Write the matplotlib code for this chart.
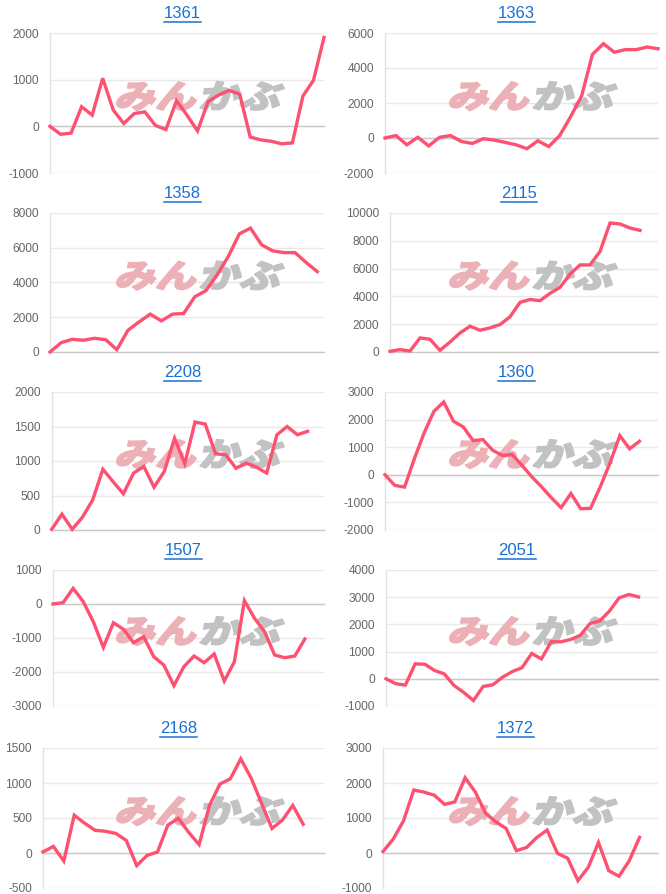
import matplotlib
matplotlib.use('Agg')
import matplotlib.pyplot as plt
from matplotlib.textpath import TextPath
from matplotlib.patches import PathPatch
from matplotlib.font_manager import FontProperties
from matplotlib.transforms import Affine2D, IdentityTransform
from matplotlib.lines import Line2D
import numpy as np

plt.rcParams['font.family'] = ['Liberation Sans', 'DejaVu Sans']

# ---------------- data ----------------
codes = ['1361', '1363', '1358', '2115', '2208', '1360', '1507', '2051', '2168', '1372']

s1361 = [0, -170, -145, 420, 240, 1030, 350, 60, 275, 310, 20, -70, 550, 240, -100,
         530, 670, 770, 690, -230, -290, -320, -375, -355, 650, 985, 1905]
s1363 = [0, 140, -390, 40, -450, 40, 140, -200, -310, -40, -120, -250, -390, -610, -160,
         -490, 140, 1220, 2390, 4780, 5390, 4900, 5050, 5050, 5200, 5100]
s1358 = [0, 540, 730, 675, 790, 710, 135, 1250, 1735, 2180, 1790, 2180, 2215, 3180, 3530,
         4430, 5490, 6800, 7130, 6170, 5820, 5720, 5720, 5150, 4625]
s2115 = [50, 170, 70, 1010, 915, 120, 720, 1370, 1855, 1565, 1735, 1975, 2530, 3570, 3780,
         3690, 4220, 4650, 5590, 6265, 6265, 7230, 9280, 9210, 8920, 8750]
s2208 = [10, 230, 10, 185, 435, 880, 700, 525, 825, 920, 620, 850, 1330, 960, 1565, 1535,
         1105, 1090, 895, 970, 910, 825, 1380, 1500, 1380, 1430]
s1360 = [0, -385, -445, 580, 1520, 2300, 2640, 1940, 1735, 1240, 1275, 890, 700, 735, 340,
         -70, -435, -830, -1190, -675, -1230, -1215, -435, 435, 1420, 940, 1215]
s1507 = [0, 40, 460, 70, -520, -1275, -550, -745, -1140, -960, -1550, -1795, -2400, -1840,
         -1530, -1725, -1470, -2265, -1700, 100, -420, -815, -1500, -1580, -1530, -1030]
s2051 = [0, -180, -230, 550, 535, 305, 180, -245, -500, -800, -280, -220, 60, 265, 410, 930,
         730, 1360, 1360, 1445, 1600, 2030, 2125, 2490, 2975, 3100, 3010]
s2168 = [15, 95, -115, 540, 425, 325, 310, 280, 180, -180, -35, 15, 400, 495, 295, 120, 680,
         985, 1060, 1345, 1070, 710, 350, 470, 680, 410]
s1372 = [40, 400, 920, 1800, 1740, 1650, 1390, 1460, 2150, 1740, 1135, 890, 700, 65, 160,
         445, 655, -10, -150, -790, -410, 300, -505, -665, -220, 445]

series = [s1361, s1363, s1358, s2115, s2208, s1360, s1507, s2051, s2168, s1372]

yt1361 = [-1000, 0, 1000, 2000]
yt1363 = [-2000, 0, 2000, 4000, 6000]
yt1358 = [0, 2000, 4000, 6000, 8000]
yt2115 = [0, 2000, 4000, 6000, 8000, 10000]
yt2208 = [0, 500, 1000, 1500, 2000]
yt1360 = [-2000, -1000, 0, 1000, 2000, 3000]
yt1507 = [-3000, -2000, -1000, 0, 1000]
yt2051 = [-1000, 0, 1000, 2000, 3000, 4000]
yt2168 = [-500, 0, 500, 1000, 1500]
yt1372 = [-1000, 0, 1000, 2000, 3000]
yticks = [yt1361, yt1363, yt1358, yt2115, yt2208, yt1360, yt1507, yt2051, yt2168, yt1372]

# ---------------- layout (pixels) ----------------
W, H = 666, 894
row_top = [33, 213, 392, 570, 748]
row_bot = [173, 352, 530, 706, 888]
lefts = [50, 385, 50, 390, 51.7, 385, 53, 386, 43, 383]
rights = [324, 658]
xmax = [26.0, 25.0, 24.6, 26.8, 26.6, 27.9, 26.9, 28.0, 27.0, 26.8]

LINE = '#fe5070'
GRID = '#e9e9e9'
ZERO = '#c9c9c9'
TICK = '#666666'
TITLE = '#1a70d2'

fig = plt.figure(figsize=(W / 100, H / 100), dpi=100)
logo_fp = FontProperties(family='Noto Sans CJK JP', weight='black')


def add_logo(ax, x_left, y_bottom):
    for txt, color, dx in [('みん', '#ecb1b6', 0), ('かぶ', '#c2c2c2', 84)]:
        tp = TextPath((0, 0), txt, size=34, prop=logo_fp)
        tr = (Affine2D().scale(1.2, 0.95).skew_deg(14, 0)
              .translate(x_left + dx, H - y_bottom))
        p = PathPatch(tr.transform_path(tp), facecolor=color, edgecolor=color,
                      lw=1.2, joinstyle='miter', transform=IdentityTransform(),
                      zorder=2.5, clip_on=False)
        ax.add_artist(p)


titles = []
for i, (code, vals, yt) in enumerate(zip(codes, series, yticks)):
    row, col = divmod(i, 2)
    l = lefts[i]
    r = rights[col]
    t = row_top[row]
    b = row_bot[row]
    ax = fig.add_axes([l / W, 1 - b / H, (r - l) / W, (b - t) / H])
    x = np.arange(len(vals))
    ax.plot(x, vals, color=LINE, lw=2.4, clip_on=False, zorder=3,
            solid_joinstyle='miter')
    ax.set_xlim(0, xmax[i])
    ax.set_ylim(yt[0], yt[-1])
    ax.set_yticks(yt)
    ax.set_yticklabels([str(v) for v in yt])
    ax.set_xticks([])
    ax.grid(axis='y', color=GRID, lw=1, zorder=0)
    ax.set_axisbelow(True)
    if yt[0] <= 0 < yt[-1]:
        ax.axhline(0, color=ZERO, lw=1, zorder=1, clip_on=False)
    for sp in ['top', 'right', 'bottom']:
        ax.spines[sp].set_visible(False)
    ax.spines['left'].set_color('#e2e2e2')
    ax.spines['left'].set_linewidth(1)
    ax.tick_params(axis='y', length=0, pad=8, labelsize=8.6, labelcolor=TICK)
    # watermark
    cell_left = 0 if col == 0 else 333
    cy = (t + b) / 2
    add_logo(ax, cell_left + 114, cy + 5)
    # title
    cx = (l + r) / 2 - 5
    ty = t - 19.5
    tt = fig.text(cx / W, 1 - ty / H, code, ha='center', va='center',
                  fontsize=12, color=TITLE)
    titles.append((tt, ty))

fig.canvas.draw()
rend = fig.canvas.get_renderer()
for tt, ty in titles:
    bb = tt.get_window_extent(rend)
    uy = 1 - (ty + 8.8) / H
    fig.add_artist(Line2D([bb.x0 / W, bb.x1 / W], [uy, uy], color=TITLE, lw=1.1,
                          transform=fig.transFigure))

fig.savefig('out.png', dpi=100)
